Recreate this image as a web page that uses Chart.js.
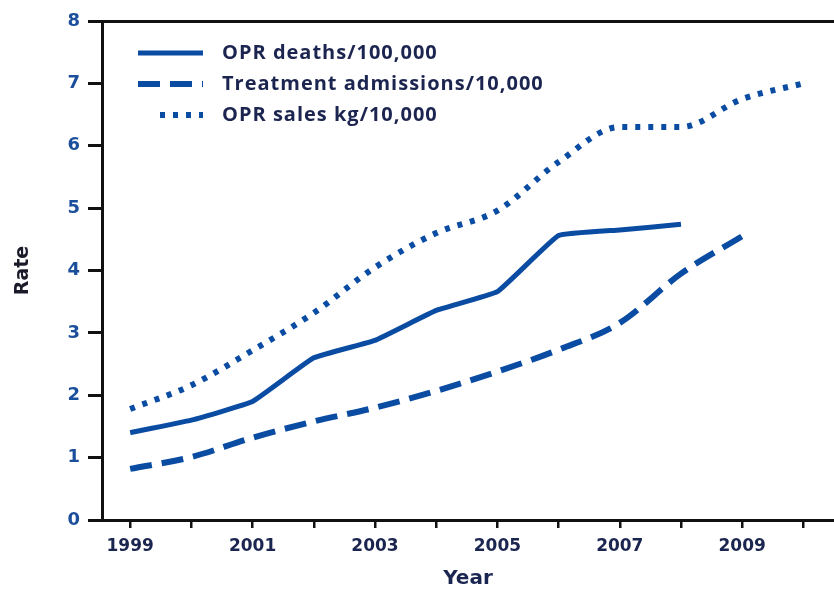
<!DOCTYPE html>
<html>
<head>
<meta charset="utf-8">
<script src="https://cdn.jsdelivr.net/npm/chart.js@4.4.1/dist/chart.umd.min.js"></script>
<style>
  html, body { margin: 0; padding: 0; background: #fff; }
  #wrap { width: 834px; height: 591px; }
</style>
</head>
<body>
<div id="wrap"><canvas id="chart"></canvas></div>
<script>
const years = [1999, 2000, 2001, 2002, 2003, 2004, 2005, 2006, 2007, 2008, 2009, 2010]
const deaths = [1.4, 1.6, 1.9, 2.6, 2.88, 3.36, 3.66, 4.56, 4.65, 4.74]
const admissions = [0.82, 1.01, 1.32, 1.58, 1.8, 2.07, 2.38, 2.73, 3.16, 3.95, 4.55]
const sales = [1.78, 2.16, 2.72, 3.32, 4.05, 4.6, 4.96, 5.74, 6.3, 6.3, 6.75, 7.0]
const labels = ['OPR deaths/100,000', 'Treatment admissions/10,000', 'OPR sales kg/10,000']
const yTicks = [0, 1, 2, 3, 4, 5, 6, 7, 8]

const lineColor = '#0b4ca3'
const tickFont = "'DejaVu Sans', sans-serif"
const toPoints = vals => vals.map((v, i) => ({ x: years[i], y: v }))

// Legend drawn inside the plot, top left, using each dataset's own stroke style
const insideLegend = {
  id: 'insideLegend',
  afterDatasetsDraw(chart) {
    const ctx = chart.ctx
    const rows = [53, 84, 115]
    ctx.save()
    chart.data.datasets.forEach((ds, i) => {
      const y = rows[i]
      ctx.strokeStyle = ds.borderColor
      ctx.lineWidth = ds.borderWidth
      ctx.setLineDash(ds.borderDash || [])
      ctx.beginPath()
      ctx.moveTo(i === 2 ? 160 : 138, y)
      ctx.lineTo(203, y)
      ctx.stroke()
      ctx.setLineDash([])
      ctx.fillStyle = '#1c2550'
      ctx.font = "bold 20px 'Open Sans', sans-serif"
      ctx.letterSpacing = '1px'
      ctx.textBaseline = 'middle'
      ctx.fillText(ds.label, 222, y)
    })
    ctx.restore()
  }
}

new Chart(document.getElementById('chart'), {
  type: 'line',
  data: {
    datasets: [
      {
        label: labels[0],
        data: toPoints(deaths),
        borderColor: lineColor,
        borderWidth: 5,
        tension: 0.1
      },
      {
        label: labels[1],
        data: toPoints(admissions),
        borderColor: lineColor,
        borderWidth: 6,
        borderDash: [22, 10],
        cubicInterpolationMode: 'monotone'
      },
      {
        label: labels[2],
        data: toPoints(sales),
        borderColor: lineColor,
        borderWidth: 6,
        borderDash: [5, 8],
        cubicInterpolationMode: 'monotone'
      }
    ]
  },
  options: {
    responsive: true,
    maintainAspectRatio: false,
    animation: false,
    layout: { padding: { top: 21, right: 0, left: 0, bottom: 0 } },
    elements: { point: { radius: 0 } },
    plugins: {
      legend: { display: false },
      tooltip: { enabled: false }
    },
    scales: {
      x: {
        type: 'linear',
        min: 1998.54,
        max: 2010.5,
        afterBuildTicks: scale => {
          scale.ticks = years.map(v => ({ value: v }))
        },
        afterFit: scale => { scale.height = 71 },
        grid: {
          drawOnChartArea: false,
          color: '#111',
          tickColor: '#111',
          tickLength: 8,
          lineWidth: 2.5
        },
        border: { color: '#111', width: 3 },
        ticks: {
          autoSkip: false,
          maxRotation: 0,
          padding: 8,
          color: '#1a2550',
          font: { size: 17, weight: 'bold', family: tickFont },
          callback: v => (v % 2 === 1 ? String(v) : '')
        },
        title: {
          display: true,
          text: 'Year',
          color: '#1a2550',
          padding: { top: 0, bottom: 0 },
          font: { size: 20, weight: 'bold', family: tickFont }
        }
      },
      y: {
        min: 0,
        max: 8,
        afterBuildTicks: scale => {
          scale.ticks = yTicks.map(v => ({ value: v }))
        },
        afterFit: scale => { scale.width = 102 },
        grid: {
          drawOnChartArea: true,
          color: c => (c.tick && c.tick.value === 8 ? '#111' : 'rgba(0,0,0,0)'),
          tickColor: '#111',
          tickLength: 14,
          lineWidth: 3
        },
        border: { color: '#111', width: 3 },
        ticks: {
          padding: 8,
          color: '#1b4f9c',
          font: { size: 18, weight: 'bold', family: tickFont }
        },
        title: {
          display: true,
          text: 'Rate',
          color: '#1a1a2a',
          padding: { top: 12, bottom: 0 },
          font: { size: 19, weight: 'bold', family: tickFont }
        }
      }
    }
  },
  plugins: [insideLegend]
})
</script>
</body>
</html>
